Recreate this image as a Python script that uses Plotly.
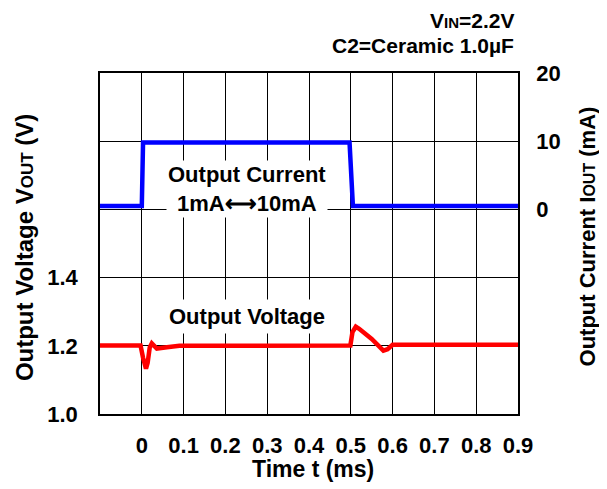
import plotly.graph_objects as go

# ---- data ----
t_current = [-0.1, 0.0, 0.003, 0.497, 0.505, 0.9]
i_current = [0.5, 0.5, 9.8, 9.8, 0.5, 0.5]

t_voltage = [-0.1, -0.003, 0.003, 0.007, 0.010, 0.014, 0.019, 0.024, 0.030, 0.036, 0.060, 0.090,
             0.2, 0.3, 0.4, 0.499, 0.504, 0.512, 0.52, 0.55, 0.578, 0.588, 0.6, 0.7, 0.8, 0.9]
v_voltage = [1.201, 1.201, 1.165, 1.136, 1.133, 1.15, 1.195, 1.207, 1.197, 1.192, 1.196, 1.200,
             1.200, 1.200, 1.200, 1.201, 1.240, 1.256, 1.250, 1.220, 1.186, 1.190, 1.203, 1.203, 1.203, 1.203]

x_ticks = [0, 0.1, 0.2, 0.3, 0.4, 0.5, 0.6, 0.7, 0.8, 0.9]
x_ticktext = ["0", "0.1", "0.2", "0.3", "0.4", "0.5", "0.6", "0.7", "0.8", "0.9"]
y_ticks = [1.0, 1.2, 1.4]
y_ticktext = ["1.0", "1.2", "1.4"]
y2_ticks = [0, 10, 20]
y2_ticktext = ["0", "10", "20"]

FONT = "Liberation Sans Narrow, Arial Narrow, Liberation Sans, Arial, sans-serif"

fig = go.Figure()
fig.add_trace(go.Scatter(x=t_voltage, y=v_voltage, mode="lines",
                         line=dict(color="#ff0000", width=4.5), yaxis="y", showlegend=False))
fig.add_trace(go.Scatter(x=t_current, y=i_current, mode="lines",
                         line=dict(color="#0000ff", width=4.5), yaxis="y2", showlegend=False))

axis_common = dict(showgrid=True, gridcolor="black", gridwidth=1.2, zeroline=False,
                   showline=True, linecolor="black", linewidth=1.5, ticks="", automargin=False,
                   tickfont=dict(family=FONT, size=22, color="black", weight="bold"))

# page body has an 8px margin, so the figure is sized/offset to compensate
fig.update_layout(
    width=599, height=481,
    margin=dict(l=92, r=89, t=65, b=75, autoexpand=False),
    paper_bgcolor="white", plot_bgcolor="white",
    font=dict(family=FONT, color="black"),
    xaxis=dict(range=[-0.1, 0.9], tickvals=x_ticks, ticktext=x_ticktext, mirror=True,
               ticklabelstandoff=11, **axis_common),
    yaxis=dict(range=[1.0, 2.0], tickvals=y_ticks, ticktext=y_ticktext, mirror=True,
               ticklabelstandoff=16, **axis_common),
    yaxis2=dict(range=[-30, 20], tickvals=y2_ticks, ticktext=y2_ticktext, overlaying="y",
                side="right", ticklabelstandoff=12, **axis_common),
)

ann_font = dict(family=FONT, size=22, color="black", weight="bold")
fig.add_annotation(x=0.251, y=3.0, xref="x", yref="y2",
                   text="Output Current<br>1mA⟷10mA", showarrow=False,
                   font=ann_font, bgcolor="white", borderpad=1)
fig.add_annotation(x=0.251, y=1.285, xref="x", yref="y",
                   text="Output Voltage", showarrow=False,
                   font=ann_font, bgcolor="white", borderpad=4)

small = dict(family=FONT, size=21, color="black", weight="bold")
fig.add_annotation(x=0.995, y=1.155, xref="paper", yref="paper", xanchor="right", yanchor="middle",
                   text="V<span style='font-size:15px'>IN</span>=2.2V", showarrow=False, font=small)
fig.add_annotation(x=0.995, y=1.082, xref="paper", yref="paper", xanchor="right", yanchor="middle",
                   text="C2=Ceramic 1.0µF", showarrow=False, font=small)

fig.add_annotation(x=0.51, y=-0.16, xref="paper", yref="paper", xanchor="center", yanchor="middle",
                   text="Time t (ms)", showarrow=False,
                   font=dict(family=FONT, size=23, color="black", weight="bold"))
fig.add_annotation(x=-0.179, y=0.487, xref="paper", yref="paper", xanchor="center", yanchor="middle",
                   textangle=-90,
                   text="Output Voltage V<span style='font-size:17px'>OUT</span> (V)",
                   showarrow=False, font=dict(family=FONT, size=24, color="black", weight="bold"))
fig.add_annotation(x=1.167, y=0.52, xref="paper", yref="paper", xanchor="center", yanchor="middle",
                   textangle=-90,
                   text="Output Current I<span style='font-size:16px'>OUT</span> (mA)",
                   showarrow=False, font=dict(family=FONT, size=22, color="black", weight="bold"))

fig.write_html("out.html")
